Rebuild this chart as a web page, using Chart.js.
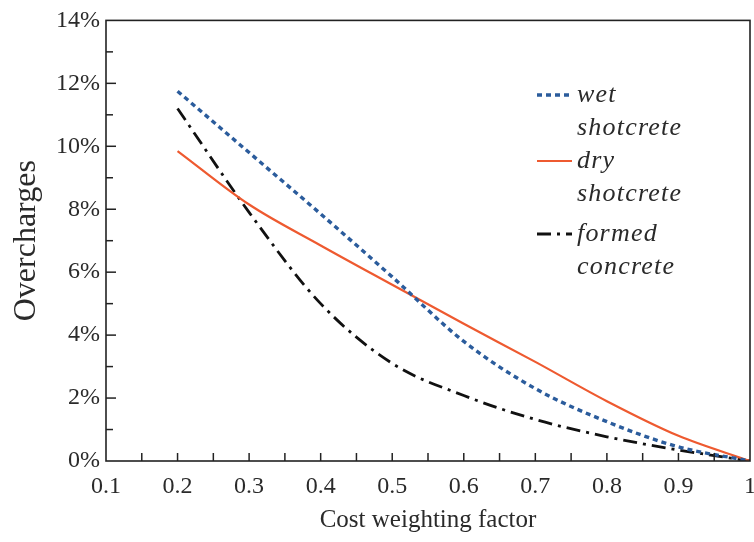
<!DOCTYPE html>
<html>
<head>
<meta charset="utf-8">
<script src="https://cdn.jsdelivr.net/npm/chart.js@4"></script>
<style>
  html, body { margin: 0; padding: 0; background: #fff; }
  #wrap { width: 754px; height: 542px; }
</style>
</head>
<body>
<div id="wrap"><canvas id="costChart" width="754" height="542"></canvas></div>
<script>
// values
const weightFactor = [0.2, 0.3, 0.4, 0.5, 0.6, 0.7, 0.8, 0.9, 1.0];
const wetShotcrete = [11.75, 9.8, 7.85, 5.85, 3.8, 2.3, 1.25, 0.45, 0];
const dryShotcrete = [9.85, 8.15, 6.85, 5.6, 4.36, 3.15, 1.9, 0.8, 0];
const formedConcrete = [11.2, 7.9, 5.0, 3.1, 2.08, 1.32, 0.77, 0.35, 0];
const seriesNames = [["wet", "shotcrete"], ["dry", "shotcrete"], ["formed", "concrete"]];
const xTicks = [0.1, 0.2, 0.3, 0.4, 0.5, 0.6, 0.7, 0.8, 0.9, 1];
const yTicks = [0, 2, 4, 6, 8, 10, 12, 14];

const SERIF = "'Liberation Serif', 'DejaVu Serif', serif";
const TEXT = "#2a2a2a";

function toPoints(ys) {
    return weightFactor.map((x, i) => ({ x: x, y: ys[i] }));
}

// inward ticks, frame and in-plot legend
const framePlugin = {
    id: "frame",
    afterDraw(chart) {
        const ctx = chart.ctx;
        const a = chart.chartArea;
        const xs = chart.scales.x;
        const ys = chart.scales.y;
        ctx.save();
        ctx.strokeStyle = "#222";
        ctx.lineWidth = 1.6;
        ctx.strokeRect(a.left, a.top, a.right - a.left, a.bottom - a.top);

        ctx.lineWidth = 1.5;
        for (let v = 1; v < 14; v++) {
            const py = ys.getPixelForValue(v);
            const len = v % 2 === 0 ? 10 : 7;
            ctx.beginPath();
            ctx.moveTo(a.left, py);
            ctx.lineTo(a.left + len, py);
            ctx.stroke();
        }
        for (let k = 3; k < 20; k++) {
            const px = xs.getPixelForValue(k * 0.05);
            ctx.beginPath();
            ctx.moveTo(px, a.bottom);
            ctx.lineTo(px, a.bottom - 8);
            ctx.stroke();
        }

        // legend
        const lx = 537, lw = 35, tx = 577;
        const rows = [95, 161, 234];
        chart.data.datasets.forEach((ds, i) => {
            const y = rows[i];
            ctx.strokeStyle = ds.borderColor;
            ctx.lineWidth = ds.borderWidth;
            ctx.setLineDash(ds.borderDash || []);
            ctx.beginPath();
            ctx.moveTo(lx, y);
            ctx.lineTo(lx + lw, y);
            ctx.stroke();
            ctx.setLineDash([]);
            ctx.fillStyle = TEXT;
            ctx.font = "italic 26px " + SERIF;
            ctx.letterSpacing = "1.2px";
            ctx.textBaseline = "middle";
            ctx.textAlign = "left";
            ctx.fillText(seriesNames[i][0], tx, y);
            ctx.fillText(seriesNames[i][1], tx, y + 33);
        });
        ctx.restore();
    }
};

const ctx = document.getElementById("costChart").getContext("2d");
new Chart(ctx, {
    type: "line",
    data: {
        datasets: [
            {
                label: "wet shotcrete",
                data: toPoints(wetShotcrete),
                borderColor: "#2b5c9c",
                borderWidth: 3.4,
                borderDash: [5, 4],
            },
            {
                label: "dry shotcrete",
                data: toPoints(dryShotcrete),
                borderColor: "#ee5a30",
                borderWidth: 2.2,
            },
            {
                label: "formed concrete",
                data: toPoints(formedConcrete),
                borderColor: "#111",
                borderWidth: 2.8,
                borderDash: [14, 6, 3, 6],
            },
        ],
    },
    options: {
        responsive: false,
        animation: false,
        events: [],
        cubicInterpolationMode: "monotone",
        pointRadius: 0,
        layout: { padding: { left: 0, top: 19, right: 4, bottom: 0 } },
        plugins: {
            legend: { display: false },
            tooltip: { enabled: false },
        },
        scales: {
            x: {
                type: "linear",
                min: 0.1,
                max: 1,
                afterBuildTicks(scale) {
                    scale.ticks = xTicks.map((v) => ({ value: v }));
                },
                afterFit(scale) {
                    scale.height = 81;
                    scale.paddingRight = 0;
                    scale.paddingLeft = 0;
                },
                grid: { display: false, drawTicks: false },
                border: { display: false },
                ticks: {
                    color: TEXT,
                    padding: 11,
                    font: { family: SERIF, size: 24 },
                    maxRotation: 0,
                    callback: (v) => (v === 1 ? "1" : v.toFixed(1)),
                },
                title: {
                    display: true,
                    text: "Cost weighting factor",
                    color: TEXT,
                    font: { family: SERIF, size: 25 },
                    padding: { top: 0, bottom: 7 },
                },
            },
            y: {
                min: 0,
                max: 14,
                afterBuildTicks(scale) {
                    scale.ticks = yTicks.map((v) => ({ value: v }));
                },
                afterFit(scale) {
                    scale.width = 106;
                },
                grid: { display: false, drawTicks: false },
                border: { display: false },
                ticks: {
                    color: TEXT,
                    padding: 6,
                    font: { family: SERIF, size: 24 },
                    callback: (v) => v + "%",
                },
                title: {
                    display: true,
                    text: "Overcharges",
                    color: TEXT,
                    font: { family: SERIF, size: 32 },
                    padding: { top: 7, bottom: 0 },
                },
            },
        },
    },
    plugins: [framePlugin],
});
</script>
</body>
</html>
